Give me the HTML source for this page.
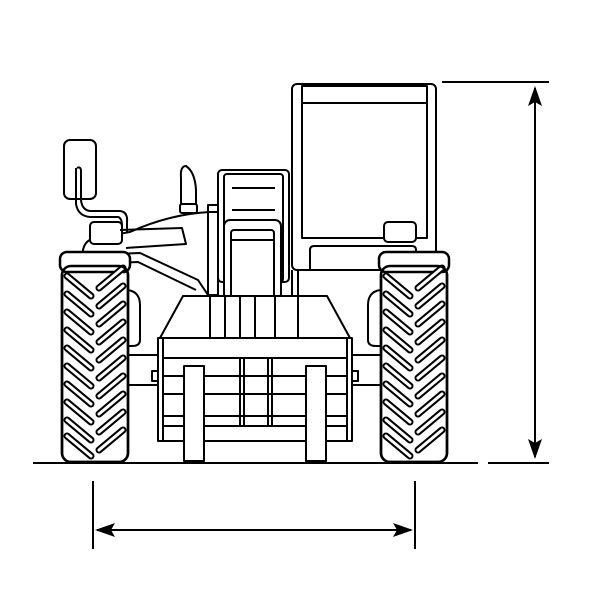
<!DOCTYPE html>
<html><head><style>html,body{margin:0;padding:0;background:#fff}svg{display:block}</style></head>
<body>
<svg width="604" height="604" viewBox="0 0 604 604" xmlns="http://www.w3.org/2000/svg">
<defs>
<marker id="ah" viewBox="0 0 10 10" refX="9" refY="5" markerWidth="20" markerHeight="14" orient="auto-start-reverse" markerUnits="userSpaceOnUse" preserveAspectRatio="none"><path d="M0,0 L10,5 L0,10 L2,5 z" fill="#000"/></marker>
<g id="lugL"><path d="M5,0 L29,20" stroke="#000" stroke-width="7" stroke-linecap="round"/><path d="M5,0 L29,20" stroke="#fff" stroke-width="3" stroke-linecap="round"/></g>
<g id="lugR"><path d="M61,0 L37,20" stroke="#000" stroke-width="7" stroke-linecap="round"/><path d="M61,0 L37,20" stroke="#fff" stroke-width="3" stroke-linecap="round"/></g>
<g id="tire">
<rect x="0" y="0" width="66" height="196" rx="9" fill="#fff" stroke="#000" stroke-width="2.5"/>
<rect x="-2" y="-14" width="70" height="20" rx="7" fill="#fff" stroke="#000" stroke-width="2.5"/>
<use href="#lugL" y="10"/><use href="#lugL" y="28"/><use href="#lugL" y="46"/><use href="#lugL" y="64"/><use href="#lugL" y="82"/><use href="#lugL" y="100"/><use href="#lugL" y="118"/><use href="#lugL" y="136"/><use href="#lugL" y="154"/><use href="#lugL" y="170"/>
<use href="#lugR" y="2"/><use href="#lugR" y="20"/><use href="#lugR" y="38"/><use href="#lugR" y="56"/><use href="#lugR" y="74"/><use href="#lugR" y="92"/><use href="#lugR" y="110"/><use href="#lugR" y="128"/><use href="#lugR" y="146"/><use href="#lugR" y="164"/>
<rect x="0" y="0" width="66" height="196" rx="9" fill="none" stroke="#000" stroke-width="2.5"/>
</g>
</defs>
<g fill="none" stroke="#000" stroke-width="2" stroke-linejoin="round">
<rect x="292" y="84" width="144" height="186" rx="5" fill="#fff"/>
<rect x="302" y="86" width="125" height="152"/>
<line x1="302" y1="103" x2="427" y2="103"/>
<path d="M310,270 V250 Q310,246 314,246 H412 Q416,246 416,250 V270"/>
<rect x="384" y="222" width="32" height="20" rx="4" fill="#fff"/>
<path d="M83,270 V250 Q85,240 95,238 L130,232 Q170,214 210,212 L218,212 V270"/>
<rect x="90" y="222" width="32" height="22" rx="4" fill="#fff"/>
<path d="M120,230 L182,228 L186,244 L126,248"/>
<path d="M92,255 L140,253 L198,280 L210,298"/>
<path d="M96,264 L138,262 L196,290"/>
<rect x="208" y="205" width="10" height="90"/>
<path d="M181,205 V178 Q180,166 186,166 Q195,172 196,190 V205 Z" fill="#fff"/>
<rect x="180" y="204" width="17" height="9" rx="2" fill="#fff"/>
<rect x="64" y="140" width="32" height="59" rx="6" fill="#fff"/>
<path d="M77,168 Q80,166 81,170 V200 Q82,210 90,211 H120 Q128,212 127,222 V232" />
<path d="M76,168 V204 Q78,216 90,217 H118 Q122,218 122,226 V232"/>
<rect x="218" y="170" width="71" height="112" rx="4" fill="#fff"/>
<rect x="224" y="174" width="59" height="108" rx="3"/>
<line x1="232" y1="188" x2="275" y2="188"/>
<line x1="232" y1="210" x2="275" y2="210"/>
<rect x="224" y="220" width="57" height="80" rx="6" fill="#fff"/>
<rect x="231" y="230" width="43" height="70" rx="3"/>
<line x1="231" y1="240" x2="274" y2="240"/>
<line x1="292" y1="270" x2="292" y2="340"/>
<line x1="298" y1="270" x2="298" y2="340"/>
<line x1="128" y1="355" x2="382" y2="355"/>
<line x1="128" y1="385" x2="382" y2="385"/>
<path d="M128,290 Q140,292 140,305 V340 Q140,346 132,346 H128"/>
<path d="M380,290 Q368,292 368,305 V340 Q368,346 376,346 H380"/>
<path d="M183,296 H327 L350,338 H160 Z" fill="#fff"/>
<line x1="210" y1="296" x2="210" y2="338"/>
<line x1="225" y1="296" x2="225" y2="338"/>
<line x1="240" y1="296" x2="240" y2="338"/>
<line x1="255" y1="296" x2="255" y2="338"/>
<line x1="275" y1="296" x2="275" y2="338"/>
<line x1="298" y1="296" x2="298" y2="338"/>
<rect x="158" y="338" width="194" height="103" fill="#fff"/>
<line x1="163" y1="358" x2="347" y2="358"/>
<line x1="163" y1="338" x2="163" y2="441"/>
<line x1="347" y1="338" x2="347" y2="441"/>
<line x1="163" y1="376" x2="347" y2="376"/>
<line x1="163" y1="394" x2="347" y2="394"/>
<line x1="163" y1="416" x2="347" y2="416"/>
<line x1="163" y1="426" x2="347" y2="426"/>
<line x1="240" y1="358" x2="240" y2="426"/>
<line x1="244" y1="358" x2="244" y2="426"/>
<line x1="268" y1="358" x2="268" y2="426"/>
<line x1="272" y1="358" x2="272" y2="426"/>
<rect x="152" y="371" width="6" height="10"/>
<rect x="352" y="371" width="6" height="10"/>
<rect x="184" y="366" width="20" height="95" fill="#fff"/>
<rect x="306" y="366" width="20" height="95" fill="#fff"/>
</g>
<use href="#tire" x="62" y="266"/>
<use href="#tire" x="381" y="266"/>
<g stroke="#000" stroke-width="2">
<line x1="33" y1="463" x2="478" y2="463"/>
<line x1="442" y1="82" x2="549" y2="82"/>
<line x1="488" y1="463" x2="549" y2="463"/>
<line x1="535" y1="88" x2="535" y2="457" marker-start="url(#ah)" marker-end="url(#ah)"/>
<line x1="93" y1="481" x2="93" y2="549"/>
<line x1="415" y1="481" x2="415" y2="549"/>
<line x1="97" y1="530" x2="411" y2="530" marker-start="url(#ah)" marker-end="url(#ah)"/>
</g>
</svg>
</body></html>
